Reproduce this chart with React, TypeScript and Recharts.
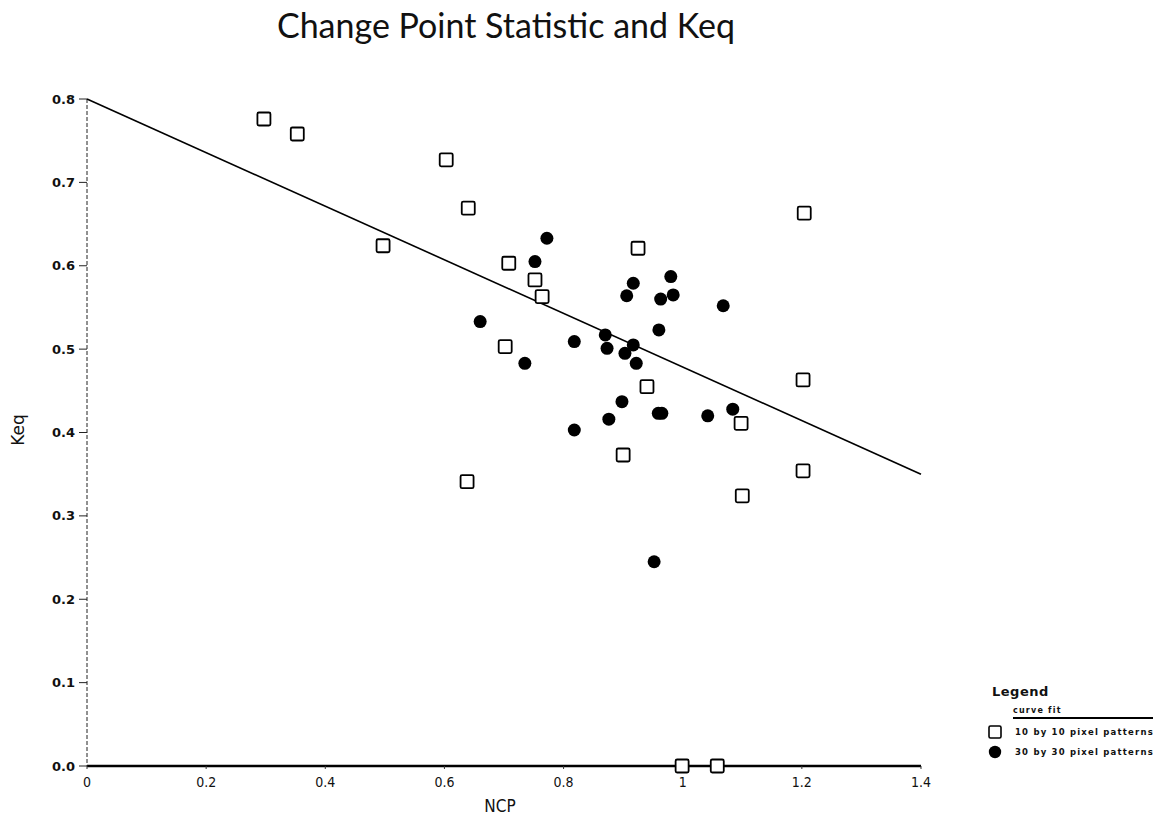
import React from "react";
import {
  ScatterChart,
  Scatter,
  XAxis,
  YAxis,
  Label,
} from "recharts";

// 10 by 10 pixel patterns
const smallNcp = [0.297, 0.353, 0.603, 0.64, 0.497, 0.925, 1.204, 0.708, 0.752, 0.764, 0.702, 0.94, 1.202, 1.098, 0.9, 0.638, 1.1, 1.202, 0.999, 1.058];
const smallKeq = [0.776, 0.758, 0.727, 0.669, 0.624, 0.621, 0.663, 0.603, 0.583, 0.563, 0.503, 0.455, 0.463, 0.411, 0.373, 0.341, 0.324, 0.354, 0.0, 0.0];

// 30 by 30 pixel patterns
const largeNcp = [0.772, 0.752, 0.917, 0.98, 0.906, 0.963, 0.984, 1.068, 0.66, 0.96, 0.818, 0.87, 0.873, 0.917, 0.903, 0.922, 0.735, 0.898, 0.959, 0.965, 1.042, 1.084, 0.876, 0.818, 0.952];
const largeKeq = [0.633, 0.605, 0.579, 0.587, 0.564, 0.56, 0.565, 0.552, 0.533, 0.523, 0.509, 0.517, 0.501, 0.505, 0.495, 0.483, 0.483, 0.437, 0.423, 0.423, 0.42, 0.428, 0.416, 0.403, 0.245];

// curve fit end points
const fitNcp = [0, 1.4];
const fitKeq = [0.8, 0.35];

const xTicks = [0, 0.2, 0.4, 0.6, 0.8, 1, 1.2, 1.4];
const xTickLabels = ["0", "0.2", "0.4", "0.6", "0.8", "1", "1.2", "1.4"];
const yTicks = [0, 0.1, 0.2, 0.3, 0.4, 0.5, 0.6, 0.7, 0.8];
const yTickLabels = ["0.0", "0.1", "0.2", "0.3", "0.4", "0.5", "0.6", "0.7", "0.8"];

const pairs = (xs: number[], ys: number[]) => xs.map((x, i) => ({ x, y: ys[i] }));

const smallData = pairs(smallNcp, smallKeq);
const largeData = pairs(largeNcp, largeKeq);
const fitData = pairs(fitNcp, fitKeq);

const SquareDot = (p: any) => (
  <rect x={p.cx - 6.5} y={p.cy - 6.5} width={13} height={13} rx={1.5} fill="#fff" stroke="#000" strokeWidth={1.8} />
);
const RoundDot = (p: any) => <circle cx={p.cx} cy={p.cy} r={6.5} fill="#000" />;
const NoDot = () => <g />;

const tickFont = { fontFamily: "DejaVu Sans", fontSize: 13, fontWeight: 700, fill: "#111" };
const xTickFont = { fontFamily: "DejaVu Sans Condensed, DejaVu Sans", fontSize: 14, fill: "#111" };

const legendRows = [
  { text: "10 by 10 pixel patterns", square: true },
  { text: "30 by 30 pixel patterns", square: false },
];

export default function App() {
  return (
    <div style={{ position: "absolute", left: 0, top: 0, width: 1166, height: 821, background: "#fff" }}>
      <div
        style={{
          position: "absolute",
          left: 0,
          width: 1012,
          top: 4,
          textAlign: "center",
          fontFamily: "Lato",
          fontSize: 34,
          color: "#111",
        }}
      >
        Change Point Statistic and Keq
      </div>

      <ScatterChart width={1166} height={821} margin={{ top: 99, right: 245, bottom: 25, left: 27 }}>
        <XAxis
          type="number"
          dataKey="x"
          domain={[0, 1.4]}
          ticks={xTicks}
          tickFormatter={(v: number) => xTickLabels[xTicks.indexOf(v)] ?? String(v)}
          height={30}
          axisLine={{ stroke: "#000", strokeWidth: 2.5 }}
          tickLine={{ stroke: "#333" }}
          tickSize={3}
          tickMargin={8}
          tick={xTickFont}
        >
          <Label
            content={() => (
              <text x={500} y={812} textAnchor="middle" fontFamily="DejaVu Sans Condensed, DejaVu Sans" fontSize={17} fill="#111">
                NCP
              </text>
            )}
          />
        </XAxis>
        <YAxis
          type="number"
          dataKey="y"
          domain={[0, 0.8]}
          ticks={yTicks}
          tickFormatter={(v: number) => yTickLabels[yTicks.indexOf(v)] ?? v.toFixed(1)}
          width={60}
          axisLine={{ stroke: "#222", strokeDasharray: "4 2" }}
          tickLine={{ stroke: "#222" }}
          tickSize={8}
          tickMargin={4}
          tick={tickFont}
        >
          <Label
            content={() => (
              <text
                x={24}
                y={430}
                transform="rotate(-90 24 430)"
                textAnchor="middle"
                fontFamily="DejaVu Sans"
                fontSize={17}
                fill="#111"
              >
                Keq
              </text>
            )}
          />
        </YAxis>
        <Scatter
          name="curve fit"
          data={fitData}
          line={{ stroke: "#000", strokeWidth: 1.6 }}
          lineType="joint"
          shape={NoDot}
          isAnimationActive={false}
        />
        <Scatter name="10 by 10 pixel patterns" data={smallData} shape={SquareDot} isAnimationActive={false} />
        <Scatter name="30 by 30 pixel patterns" data={largeData} shape={RoundDot} isAnimationActive={false} />
      </ScatterChart>

      <div style={{ position: "absolute", left: 986, top: 684, width: 175, fontFamily: "DejaVu Sans", color: "#111" }}>
        <div style={{ fontSize: 13, fontWeight: 700, marginLeft: 6, letterSpacing: 0.5 }}>Legend</div>
        <div
          style={{
            marginLeft: 27,
            width: 140,
            marginTop: 7,
            borderBottom: "2px solid #000",
            fontSize: 8,
            lineHeight: "10px",
            fontWeight: 700,
            paddingBottom: 1,
            letterSpacing: 1.2,
          }}
        >
          curve fit
        </div>
        {legendRows.map((row) => (
          <div key={row.text} style={{ display: "flex", alignItems: "center", height: 20, marginTop: row.square ? 3 : 0 }}>
            <svg width={29} height={16}>
              {row.square ? (
                <rect x={3} y={2} width={12} height={12} rx={1.5} fill="#fff" stroke="#000" strokeWidth={1.6} />
              ) : (
                <circle cx={9} cy={8} r={6.2} fill="#000" />
              )}
            </svg>
            <span style={{ fontSize: 8.5, fontWeight: 700, letterSpacing: 1.2 }}>{row.text}</span>
          </div>
        ))}
      </div>
    </div>
  );
}
